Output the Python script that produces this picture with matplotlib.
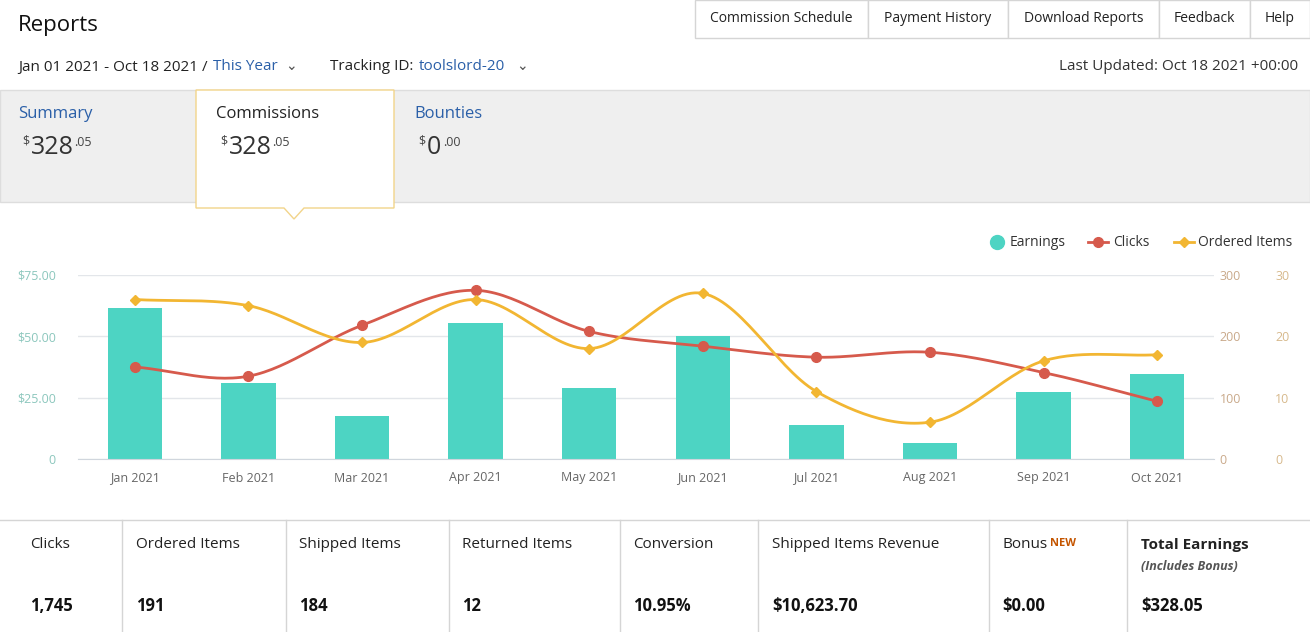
import matplotlib
matplotlib.use("Agg")
import matplotlib.pyplot as plt
import numpy as np
from matplotlib.patches import Rectangle, Polygon

plt.rcParams['font.family'] = ['Open Sans', 'DejaVu Sans']

months = ["Jan 2021", "Feb 2021", "Mar 2021", "Apr 2021", "May 2021",
          "Jun 2021", "Jul 2021", "Aug 2021", "Sep 2021", "Oct 2021"]
earnings = [61.5, 31.0, 17.5, 55.4, 29.0, 50.1, 13.9, 6.5, 27.3, 34.7]
clicks = [150, 135, 218, 275, 208, 184, 166, 174, 141, 94]
ordered = [26, 25, 19, 26, 18, 27, 11, 6, 16, 17]
left_ticks = ["0", "$25.00", "$50.00", "$75.00"]
stat_labels = ["Clicks", "Ordered Items", "Shipped Items", "Returned Items", "Conversion",
               "Shipped Items Revenue", "Bonus", "Total Earnings"]
stat_values = ["1,745", "191", "184", "12", "10.95%", "$10,623.70", "$0.00", "$328.05"]
stat_x = [30, 136, 299, 462, 633, 772, 1002, 1141]
sep_x = [122, 286, 449, 620, 758, 989, 1127]

W, H = 1310, 632
TEAL, RED, ORANGE = "#4dd4c3", "#d65a4c", "#f2b632"
DARK, BLUE, GRAY = "#111111", "#2a5fa8", "#555555"

fig = plt.figure(figsize=(W / 100, H / 100), dpi=100)
bg = fig.add_axes([0, 0, 1, 1])
bg.set_xlim(0, W); bg.set_ylim(H, 0); bg.axis("off")

def T(x, y, s, **kw):
    kw.setdefault("va", "center")
    bg.text(x, y, s, **kw)

# header
T(18, 25, "Reports", fontsize=16, color=DARK)
btns = [("Commission Schedule", 695, 868), ("Payment History", 868, 1008),
        ("Download Reports", 1008, 1159), ("Feedback", 1159, 1250), ("Help", 1250, 1310)]
for lab, x0, x1 in btns:
    bg.add_patch(Rectangle((x0, 0), x1 - x0, 38, fc="white", ec="#d5d5d5", lw=1))
    T((x0 + x1) / 2, 19, lab, fontsize=10, color="#222222", ha="center")
T(18, 67, "Jan 01 2021 - Oct 18 2021 /", fontsize=11, color="#222222")
T(213, 67, "This Year", fontsize=11, color=BLUE)
T(285, 67, "⌄", fontsize=10, color=GRAY)
T(330, 67, "Tracking ID:", fontsize=11, color="#222222")
T(419, 67, "toolslord-20", fontsize=11, color=BLUE)
T(516, 67, "⌄", fontsize=10, color=GRAY)
T(1298, 67, "Last Updated: Oct 18 2021 +00:00", fontsize=11, color="#333333", ha="right")

# summary gray band
bg.add_patch(Rectangle((0, 90), W, 112, fc="#efefef", ec="#dddddd", lw=1))
bg.add_patch(Polygon([(196, 90), (196, 208), (284, 208), (294, 219), (304, 208),
                      (394, 208), (394, 90)], closed=True, fc="white", ec="#f2d48a", lw=1))
for x, lab, big, small, col in [(18, "Summary", "328", ".05", BLUE),
                                (216, "Commissions", "328", ".05", "#222222"),
                                (414, "Bounties", "0", ".00", BLUE)]:
    T(x, 114, lab, fontsize=12, color=col)
    T(x + 4, 141, "$", fontsize=9, color="#444444")
    T(x + 13, 148, big, fontsize=18, color="#333333")
    off = 43 if len(big) == 3 else 16
    T(x + 13 + off, 143, small, fontsize=9, color="#444444")

# chart
ax = fig.add_axes([78 / W, 1 - 459 / H, (1214 - 78) / W, (459 - 275) / H])
x = np.arange(len(months))
ax.bar(x, earnings, width=0.48, color=TEAL, zorder=2)
ax.set_xlim(-0.5, len(months) - 0.5)
ax.set_ylim(0, 75)
ax.set_yticks([0, 25, 50, 75])
ax.set_yticklabels(left_ticks)
ax.set_xticks(x)
ax.set_xticklabels(months)
ax.tick_params(axis="y", length=0, colors="#8cc7bd", labelsize=9, pad=16)
ax.tick_params(axis="x", length=0, colors="#666666", labelsize=9, pad=9)
ax.grid(axis="y", color="#e3e6ea", lw=1, zorder=0)
for s in ["top", "right", "left"]:
    ax.spines[s].set_visible(False)
ax.spines["bottom"].set_color("#d0d6dd")

def smooth(xs, ys, n=30):
    xs = np.asarray(xs, float); ys = np.asarray(ys, float)
    m = np.gradient(ys, xs)
    out_x, out_y = [], []
    for i in range(len(xs) - 1):
        t = np.linspace(0, 1, n)
        h = xs[i + 1] - xs[i]
        h00 = 2 * t**3 - 3 * t**2 + 1; h10 = t**3 - 2 * t**2 + t
        h01 = -2 * t**3 + 3 * t**2; h11 = t**3 - t**2
        out_x.append(xs[i] + t * h)
        out_y.append(h00 * ys[i] + h10 * h * m[i] + h01 * ys[i + 1] + h11 * h * m[i + 1])
    return np.concatenate(out_x), np.concatenate(out_y)

ax2 = ax.twinx()
ax2.set_ylim(0, 300)
cx, cy = smooth(x, clicks)
ax2.plot(cx, cy, color=RED, lw=2, zorder=3)
ax2.plot(x, clicks, "o", color=RED, ms=7, zorder=4)
ax2.set_yticks([0, 100, 200, 300])
ax2.tick_params(axis="y", length=0, colors="#c9a98a", labelsize=9, pad=4)
for s in ax2.spines.values():
    s.set_visible(False)

ax3 = ax.twinx()
ax3.set_ylim(0, 30)
ox, oy = smooth(x, ordered)
ax3.plot(ox, oy, color=ORANGE, lw=2, zorder=3)
ax3.plot(x, ordered, "D", color=ORANGE, ms=5, zorder=4)
ax3.set_yticks([0, 10, 20, 30])
ax3.tick_params(axis="y", length=0, colors="#d7b98c", labelsize=9, pad=4)
ax3.spines["right"].set_position(("outward", 40))
for s in ax3.spines.values():
    s.set_visible(False)

# legend
bg.plot([997], [242], "o", color=TEAL, ms=10)
T(1010, 242, "Earnings", fontsize=10, color="#333333")
bg.plot([1088, 1108], [242, 242], color=RED, lw=2)
bg.plot([1098], [242], "o", color=RED, ms=7)
T(1113, 242, "Clicks", fontsize=10, color="#333333")
bg.plot([1174, 1194], [242, 242], color=ORANGE, lw=2)
bg.plot([1184], [242], "D", color=ORANGE, ms=5)
T(1198, 242, "Ordered Items", fontsize=10, color="#333333")

# stats row
bg.plot([0, W], [520, 520], color="#d5d5d5", lw=1)
for sx in sep_x:
    bg.plot([sx, sx], [520, H], color="#d5d5d5", lw=1)
for i, (sx, lab, val) in enumerate(zip(stat_x, stat_labels, stat_values)):
    bold = i == len(stat_labels) - 1
    T(sx, 545, lab, fontsize=11, color="#222222", fontweight="bold" if bold else "normal")
    T(sx, 606, val, fontsize=12, color="#111111", fontweight="bold")
T(1050, 544, "NEW", fontsize=8, color="#c45500", fontweight="bold")
T(1141, 567, "(Includes Bonus)", fontsize=9, color="#555555", style="italic", fontweight="bold")

fig.savefig("out.png", dpi=100)
